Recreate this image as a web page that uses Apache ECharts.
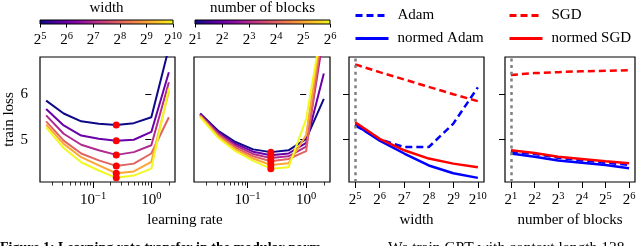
<!DOCTYPE html>
<html><head><meta charset="utf-8">
<script src="https://cdn.jsdelivr.net/npm/echarts@6/dist/echarts.min.js"></script>
<style>html,body{margin:0;padding:0;background:#fff}#c{width:640px;height:246px}</style>
</head><body><div id="c"></div>
<script>
// ---------- data ----------
// learning rates are 2^k for k in lrExp2
const lrExp2 = [-6, -5, -4, -3, -2, -1, 0, 1];
const widthExp2 = [5, 6, 7, 8, 9, 10];      // width = 2^k
const blocksExp2 = [1, 2, 3, 4, 5, 6];      // number of blocks = 2^k

// panel 1: train loss vs learning rate, one curve per width (2^5 .. 2^10)
const lossWidth32   = [5.85, 5.57, 5.40, 5.35, 5.32, 5.36, 5.49, 7.00];
const lossWidth64   = [5.67, 5.31, 5.09, 5.02, 4.98, 5.00, 5.17, 6.47];
const lossWidth128  = [5.53, 5.13, 4.89, 4.77, 4.67, 4.73, 4.88, 6.25];
const lossWidth256  = [5.40, 4.98, 4.70, 4.55, 4.43, 4.48, 4.70, 5.49];
const lossWidth512  = [5.33, 4.91, 4.62, 4.44, 4.27, 4.31, 4.52, 6.05];
const lossWidth1024 = [5.27, 4.82, 4.51, 4.33, 4.17, 4.22, 4.37, 6.12];

// panel 2: train loss vs learning rate, one curve per number of blocks (2^1 .. 2^6)
const lossBlocks2  = [5.57, 5.20, 4.95, 4.79, 4.73, 4.77, 5.02, 5.89];
const lossBlocks4  = [5.56, 5.17, 4.91, 4.74, 4.66, 4.70, 4.93, 6.44];
const lossBlocks8  = [5.54, 5.14, 4.87, 4.69, 4.60, 4.64, 4.85, 7.30];
const lossBlocks16 = [5.53, 5.11, 4.83, 4.64, 4.53, 4.58, 4.75, 7.60];
const lossBlocks32 = [5.51, 5.08, 4.79, 4.59, 4.45, 4.49, 5.10, 7.70];
const lossBlocks64 = [5.49, 5.05, 4.75, 4.54, 4.37, 4.40, 5.45, 7.70];

// panel 3: loss vs width
const widthAdam       = [5.31, 5.01, 4.84, 4.84, 5.35, 6.14];
const widthNormedAdam = [5.33, 4.98, 4.70, 4.44, 4.27, 4.17];
const widthSGD        = [6.64, 6.47, 6.31, 6.15, 5.99, 5.84];
const widthNormedSGD  = [5.38, 5.02, 4.77, 4.59, 4.48, 4.40];

// panel 4: loss vs number of blocks
const blocksAdam       = [4.74, 4.69, 4.61, 4.55, 4.50, 4.45];
const blocksNormedAdam = [4.70, 4.63, 4.55, 4.50, 4.45, 4.38];
const blocksSGD        = [6.41, 6.45, 6.47, 6.49, 6.50, 6.51];
const blocksNormedSGD  = [4.77, 4.71, 4.63, 4.58, 4.53, 4.49];

// ticks
const lossTicks = [5, 6];
const lossRange = [4.08, 6.8];
const lrMajorTicks = [0.1, 1];
const lrMinorTicks = [0.02,0.03,0.04,0.05,0.06,0.07,0.08,0.09,0.2,0.3,0.4,0.5,0.6,0.7,0.8,0.9,2];

// ---------- styles ----------
const FONT = '"Liberation Serif", "Times New Roman", Times, serif';
const plasma6 = ['#0d0887', '#6a00a8', '#b12a90', '#e16462', '#fca636', '#f0f921'];
const plasmaStops = ['#0d0887','#41049d','#6a00a8','#8f0da4','#b12a90','#cc4778','#e16462','#f2844b','#fca636','#fcce25','#f0f921']
  .map((c, i, a) => ({offset: i / (a.length - 1), color: c}));
const BLUE = '#0000ff', RED = '#ff0000';
const DASH = [7, 4];

const rich = {
  b: {fontFamily: FONT, fontSize: 15, lineHeight: 17, verticalAlign: 'bottom', color: '#000'},
  s: {fontFamily: FONT, fontSize: 10.5, lineHeight: 9, verticalAlign: 'top', color: '#000'}
};
const powLabel = (base, e) => '{b|' + base + '}{s|' + String(e).replace('-', '\u2212') + '}';

const pad = arr => { const lo = arr[0], hi = arr[arr.length - 1], p = 0.05 * (hi - lo); return [lo - p, hi + p]; };
const lrRange = pad(lrExp2), wRange = pad(widthExp2), bRange = pad(blocksExp2);

const grids = [
  {left: 40, top: 57, width: 135, height: 125},
  {left: 194, top: 57, width: 136, height: 125},
  {left: 349, top: 57, width: 135, height: 125},
  {left: 505, top: 57, width: 130, height: 125},
  {left: 40, top: 17, width: 133, height: 7},
  {left: 195, top: 17, width: 135, height: 7}
].map((g, i) => Object.assign(g, {show: i < 4, borderColor: '#000', borderWidth: 1.2, backgroundColor: 'transparent'}));

const hidden = {axisLine: {show: false}, splitLine: {show: false}};

function lrAxis(gi) {
  return [{
    type: 'value', gridIndex: gi, position: 'bottom', min: lrRange[0], max: lrRange[1], ...hidden,
    axisTick: {show: true, length: 6, lineStyle: {color: '#000', width: 1}, customValues: lrMajorTicks.map(Math.log2)},
    axisLabel: {show: true, margin: 9, rich, customValues: lrMajorTicks.map(Math.log2),
      formatter: v => powLabel(10, Math.round(v * Math.log10(2)))}
  }, {
    type: 'value', gridIndex: gi, position: 'bottom', min: lrRange[0], max: lrRange[1], ...hidden,
    axisTick: {show: true, length: 3.5, lineStyle: {color: '#000', width: 0.8}, customValues: lrMinorTicks.map(Math.log2)},
    axisLabel: {show: false}
  }];
}
function powAxis(gi, range, cats, name, margin) {
  return {
    type: 'value', gridIndex: gi, position: 'bottom', min: range[0], max: range[1], ...hidden,
    name: name, nameLocation: 'middle', nameGap: 30,
    nameTextStyle: {fontFamily: FONT, fontSize: 15, color: '#000'},
    axisTick: {show: true, length: gi >= 4 ? 3.5 : 6, lineStyle: {color: '#000', width: 1}, customValues: cats},
    axisLabel: {show: true, margin: margin, rich, customValues: cats, formatter: v => powLabel(2, v)}
  };
}
function titleAxis(gi, range, name) {
  return {
    type: 'value', gridIndex: gi, position: 'top', min: range[0], max: range[1], ...hidden,
    axisTick: {show: false}, axisLabel: {show: false},
    name: name, nameLocation: 'middle', nameGap: 4,
    nameTextStyle: {fontFamily: FONT, fontSize: 15, color: '#000'}
  };
}

const xAxis = [
  ...lrAxis(0),                                   // 0,1
  ...lrAxis(1),                                   // 2,3
  powAxis(2, wRange, widthExp2, 'width', 8.5),     // 4
  powAxis(3, bRange, blocksExp2, 'number of blocks', 8.5), // 5
  powAxis(4, [widthExp2[0], widthExp2[widthExp2.length - 1]], widthExp2, '', 6.5),   // 6
  titleAxis(4, [widthExp2[0], widthExp2[widthExp2.length - 1]], 'width'),           // 7
  powAxis(5, [blocksExp2[0], blocksExp2[blocksExp2.length - 1]], blocksExp2, '', 6.5), // 8
  titleAxis(5, [blocksExp2[0], blocksExp2[blocksExp2.length - 1]], 'number of blocks') // 9
];

const yAxis = [0, 1, 2, 3].map(gi => ({
  type: 'value', gridIndex: gi, min: lossRange[0], max: lossRange[1], ...hidden,
  axisTick: {show: true, length: 6, lineStyle: {color: '#000', width: 1}, customValues: lossTicks},
  axisLabel: {show: gi === 0, margin: 12, customValues: lossTicks, fontFamily: FONT, fontSize: 15, color: '#000'},
  name: gi === 0 ? 'train loss' : '', nameLocation: 'middle', nameGap: 22,
  nameTextStyle: {fontFamily: FONT, fontSize: 15, color: '#000'}
})).concat([4, 5].map(gi => ({
  type: 'value', gridIndex: gi, min: 0, max: 1, show: false
})));

const series = [];
function addLine(name, xs, ys, color, xi, yi, width, dash, z) {
  series.push({
    type: 'line', name, xAxisIndex: xi, yAxisIndex: yi,
    data: xs.map((x, i) => [x, ys[i]]),
    symbol: 'none', showSymbol: false, clip: true, z: z || 2,
    lineStyle: {color, width, type: dash || 'solid'}, itemStyle: {color},
    emphasis: {disabled: true}
  });
}
function addMinDots(curves, xs, xi, yi) {
  series.push({
    type: 'scatter', xAxisIndex: xi, yAxisIndex: yi, symbolSize: 7, z: 5,
    itemStyle: {color: RED, opacity: 1},
    data: curves.map(c => { let k = 0; c.forEach((v, i) => { if (v < c[k]) k = i; }); return [xs[k], c[k]]; })
  });
}

const widthCurves = [lossWidth32, lossWidth64, lossWidth128, lossWidth256, lossWidth512, lossWidth1024];
const blockCurves = [lossBlocks2, lossBlocks4, lossBlocks8, lossBlocks16, lossBlocks32, lossBlocks64];
widthCurves.forEach((c, i) => addLine('w' + i, lrExp2, c, plasma6[i], 0, 0, 2));
addMinDots(widthCurves, lrExp2, 0, 0);
blockCurves.forEach((c, i) => addLine('b' + i, lrExp2, c, plasma6[i], 2, 1, 2));
addMinDots(blockCurves, lrExp2, 2, 1);

function addRef(xs, xi, yi) {
  series.push({
    type: 'line', xAxisIndex: xi, yAxisIndex: yi, data: [], symbol: 'none',
    markLine: {silent: true, symbol: 'none', label: {show: false},
      lineStyle: {color: '#808080', type: [3, 3.7], width: 2.5, cap: 'butt'},
      data: [{xAxis: xs[0]}]}
  });
}
addRef(widthExp2, 4, 2);
addLine('Adam', widthExp2, widthAdam, BLUE, 4, 2, 2.5, DASH, 3);
addLine('SGD', widthExp2, widthSGD, RED, 4, 2, 2.5, DASH, 3);
addLine('normed Adam', widthExp2, widthNormedAdam, BLUE, 4, 2, 2.5, null, 3);
addLine('normed SGD', widthExp2, widthNormedSGD, RED, 4, 2, 2.5, null, 3);

addRef(blocksExp2, 5, 3);
addLine('normed Adam', blocksExp2, blocksNormedAdam, BLUE, 5, 3, 2.5, null, 3);
addLine('Adam', blocksExp2, blocksAdam, BLUE, 5, 3, 2.5, DASH, 3);
addLine('normed SGD', blocksExp2, blocksNormedSGD, RED, 5, 3, 2.5, null, 3);
addLine('SGD', blocksExp2, blocksSGD, RED, 5, 3, 2.5, DASH, 3);

function addColorbar(xs, xi, yi) {
  series.push({
    type: 'custom', xAxisIndex: xi, yAxisIndex: yi, silent: true,
    data: [[xs[0], xs[xs.length - 1]]], encode: {x: [0, 1]},
    renderItem: (params, api) => {
      const p0 = api.coord([api.value(0), 0]);
      const p1 = api.coord([api.value(1), 1]);
      return {type: 'rect', shape: {x: p0[0], y: p1[1], width: p1[0] - p0[0], height: p0[1] - p1[1]},
        style: {fill: new echarts.graphic.LinearGradient(0, 0, 1, 0, plasmaStops), stroke: '#000', lineWidth: 1}};
    }
  });
}
addColorbar(widthExp2, 6, 4);
addColorbar(blocksExp2, 8, 5);

const legendCommon = {
  orient: 'vertical', top: 3, itemWidth: 33, itemHeight: 14, itemGap: 8, selectedMode: false,
  itemStyle: {opacity: 0},
  lineStyle: {width: 3},
  textStyle: {fontFamily: FONT, fontSize: 15, color: '#000', padding: [0, 0, 0, 4]}
};

const chart = echarts.init(document.getElementById('c'), null, {renderer: 'canvas'});
chart.setOption({
  animation: false,
  backgroundColor: '#fff',
  grid: grids, xAxis, yAxis, series,
  legend: [
    Object.assign({data: ['Adam', 'normed Adam'], left: 349}, legendCommon),
    Object.assign({data: ['SGD', 'normed SGD'], left: 503}, legendCommon)
  ],
  graphic: [
    {type: 'text', x: 185, y: 220, style: {text: 'learning rate', font: '15px ' + FONT, fill: '#000', align: 'center', verticalAlign: 'middle'}},
    {type: 'text', x: 0, y: 248, style: {text: 'Figure 1: Learning rate transfer in the modular norm.', font: 'bold 14px ' + FONT, fill: '#000', align: 'left', verticalAlign: 'middle'}},
    {type: 'text', x: 388, y: 248, style: {text: 'We train GPT with context length 128', font: '15.5px ' + FONT, fill: '#000', align: 'left', verticalAlign: 'middle'}}
  ]
});
</script></body></html>
